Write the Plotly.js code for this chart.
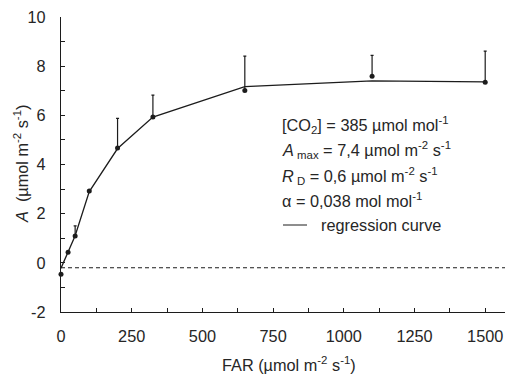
<!DOCTYPE html>
<html><head><meta charset="utf-8">
<script src="https://cdn.plot.ly/plotly-3.0.1.min.js"></script>
<style>body{margin:0;background:#fff}#chart{width:509px;height:374px}</style>
</head><body><div id="chart"></div>
<script>
const far = [0, 25, 50, 100, 200, 325, 650, 1100, 1500];
const assimilation = [-0.46, 0.43, 1.09, 2.92, 4.67, 5.93, 7.01, 7.59, 7.35];
const errorUp = [0, 0, 0.41, 0, 1.21, 0.89, 1.40, 0.85, 1.26];
const errorDown = [0, 0, 0, 0, 0, 0, 0, 0, 0];
const curveFar = [0, 25, 50, 100, 200, 325, 650, 1100, 1500];
const curveA = [-0.22, 0.45, 1.1, 2.9, 4.65, 5.93, 7.17, 7.4, 7.36];
const dashedLevel = -0.2;
const xTickVals = [0, 250, 500, 750, 1000, 1250, 1500];
const xTickText = ['0', '250', '500', '750', '1000', '1250', '1500'];
const yTickVals = [-2, 0, 2, 4, 6, 8, 10];
const yTickText = ['-2', '0', '2', '4', '6', '8', '10'];
const infoLines = [
  '[CO<sub>2</sub>] = 385 µmol mol<sup>-1</sup>',
  '<i>A</i><sub> max</sub> = 7,4 µmol m<sup>-2</sup> s<sup>-1</sup>',
  '<i>R</i><sub> D</sub> = 0,6 µmol m<sup>-2</sup> s<sup>-1</sup>',
  'α = 0,038 mol mol<sup>-1</sup>'
];
const legendText = 'regression curve';

const ink = '#1c1c1c';
const textCol = '#262626';
const F = 'Liberation Sans, Arial, sans-serif';
const FS = 16.3;

// pixel helpers for layout placement (plot area: x 61..505, y 17..312)
const px = x => (x - 61) / 444;
const py = y => (312 - y) / 295;

const traces = [
  {x: curveFar, y: curveA, mode: 'lines', type: 'scatter',
   line: {color: ink, width: 1.3}, hoverinfo: 'skip', cliponaxis: false},
  {x: far, y: assimilation, mode: 'markers', type: 'scatter',
   marker: {color: ink, size: 5}, cliponaxis: false,
   error_y: {type: 'data', symmetric: false, array: errorUp, arrayminus: errorDown,
             color: ink, thickness: 1.2, width: 1.5}}
];

const annotations = infoLines.map((t, i) => ({
  xref: 'paper', yref: 'paper', x: px(280), y: py([125, 150, 175.5, 200][i]),
  xanchor: 'left', yanchor: 'middle', showarrow: false, text: t,
  font: {family: F, size: FS, color: textCol}
}));
annotations.push({xref: 'paper', yref: 'paper', x: px(319), y: py(225),
  xanchor: 'left', yanchor: 'middle', showarrow: false, text: legendText,
  font: {family: F, size: FS, color: textCol}});
annotations.push({xref: 'paper', yref: 'paper', x: px(289), y: py(364),
  xanchor: 'center', yanchor: 'middle', showarrow: false,
  text: 'FAR (µmol m<sup>-2</sup> s<sup>-1</sup>)',
  font: {family: F, size: FS, color: textCol}});
annotations.push({xref: 'paper', yref: 'paper', x: px(21), y: py(164),
  xanchor: 'center', yanchor: 'middle', showarrow: false, textangle: -90,
  text: '<i>A</i>  (µmol m<sup>-2</sup> s<sup>-1</sup>)',
  font: {family: F, size: FS, color: textCol}});

const layout = {
  width: 509, height: 374,
  margin: {l: 61, r: 4, t: 17, b: 62, pad: 0},
  paper_bgcolor: '#fff', plot_bgcolor: '#fff',
  showlegend: false,
  xaxis: {range: [0, 1570], showgrid: false, zeroline: false, showline: true,
    linecolor: ink, linewidth: 1.2, ticks: 'inside', ticklen: 4, tickcolor: ink, tickwidth: 1,
    tickmode: 'array', tickvals: xTickVals, ticktext: xTickText,
    ticklabelstandoff: 9,
    minor: {tickmode: 'linear', tick0: 0, dtick: 125, ticks: 'inside', ticklen: 4, tickcolor: ink},
    tickfont: {family: F, size: FS, color: textCol}, fixedrange: true},
  yaxis: {range: [-2, 10], showgrid: false, zeroline: false, showline: true,
    linecolor: ink, linewidth: 1.2, ticks: 'inside', ticklen: 4, tickcolor: ink, tickwidth: 1,
    tickmode: 'array', tickvals: yTickVals, ticktext: yTickText,
    ticklabelstandoff: 11,
    minor: {tickmode: 'linear', tick0: 0, dtick: 1, ticks: 'inside', ticklen: 4, tickcolor: ink},
    tickfont: {family: F, size: FS, color: textCol}, fixedrange: true},
  shapes: [
    {type: 'line', xref: 'paper', yref: 'y', x0: 0, x1: 1, y0: dashedLevel, y1: dashedLevel,
     line: {color: ink, width: 1.1, dash: '4px,3px'}},
    {type: 'line', xref: 'paper', yref: 'paper', x0: px(283), x1: px(307), y0: py(225), y1: py(225),
     line: {color: ink, width: 1}}
  ],
  annotations: annotations
};

Plotly.newPlot('chart', traces, layout, {staticPlot: true, displayModeBar: false});
</script>
</body></html>
